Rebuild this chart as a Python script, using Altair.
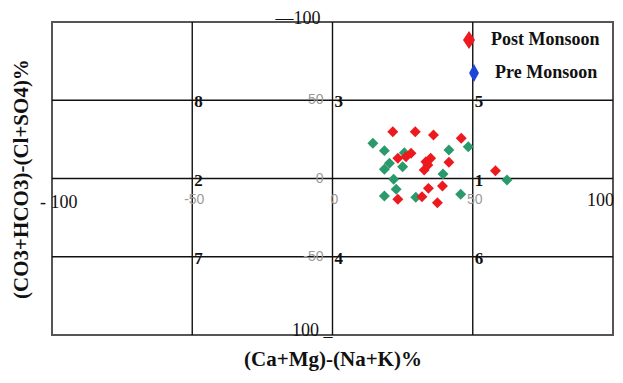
import altair as alt
import pandas as pd

# Post Monsoon (red) samples
post_x = [21.5, 29.5, 36.0, 45.9, 23.3, 26.2, 28.0, 33.3, 35.0, 32.7, 34.0, 41.5, 58.1, 34.2, 39.2, 23.3, 31.9, 37.4]
post_y = [29.9, 29.9, 27.8, 25.7, 12.9, 13.9, 16.1, 10.7, 12.9, 5.4, 8.6, 10.4, 5.0, -6.3, -4.8, -13.3, -11.6, -15.5]
# Pre Monsoon (green) samples
pre_x = [14.4, 18.5, 25.6, 20.3, 18.5, 25.0, 41.5, 48.4, 39.4, 21.8, 22.7, 18.5, 29.7, 45.7, 62.2]
pre_y = [22.5, 17.8, 16.5, 9.7, 5.9, 7.5, 18.2, 20.3, 2.9, -0.5, -6.9, -11.2, -12.0, -10.1, -1.0]

grid_vals = [-50, 0, 50]
region_x = [50, 0, -50, 0, 50, 50, -50, -50]
region_y = [0, -50, 0, 50, 50, -50, -50, 50]
region_lab = ["1", "4", "2", "3", "5", "6", "7", "8"]

xgrey_vals = [-50, 0, 50]
xgrey_labs = ["-50", "0", "50"]
ygrey_vals = [50, 0, -50]
ygrey_labs = ["50", "0", "-50"]

legend_labels = ["Post Monsoon", "Pre Monsoon"]

RED = "#ec1a1f"
GREEN = "#2a9a6c"
BLUE = "#1f45d6"
SERIF = "Liberation Serif"

xs = alt.Scale(domain=[-100, 100], nice=False, zero=False)
ys = alt.Scale(domain=[-100, 100], nice=False, zero=False)

XAX = alt.Axis(title="(Ca+Mg)-(Na+K)%", labels=False, ticks=False, domain=False, grid=False,
               titleFont=SERIF, titleFontSize=21, titleFontWeight="bold", titleColor="#111",
               titlePadding=13)
YAX = alt.Axis(title="(CO3+HCO3)-(Cl+SO4)%", labels=False, ticks=False, domain=False, grid=False,
               titleFont=SERIF, titleFontSize=21, titleFontWeight="bold", titleColor="#111",
               titlePadding=21)


def X(f):
    return alt.X(f, scale=xs, axis=XAX)


def Y(f):
    return alt.Y(f, scale=ys, axis=YAX)


pts = pd.concat([
    pd.DataFrame({"x": pre_x, "y": pre_y, "season": "Pre Monsoon"}),
    pd.DataFrame({"x": post_x, "y": post_y, "season": "Post Monsoon"}),
])

gdf = pd.DataFrame({"v": grid_vals, "lo": -100, "hi": 100})

vlines = alt.Chart(gdf).mark_rule(color="#111", strokeWidth=1.4).encode(
    x=X("v:Q"), y=Y("lo:Q"), y2="hi:Q",
)
hlines = alt.Chart(gdf).mark_rule(color="#111", strokeWidth=1.4).encode(
    y=Y("v:Q"), x=X("lo:Q"), x2="hi:Q",
)
border = alt.Chart(pd.DataFrame({"a": [-100], "b": [100]})).mark_rect(
    fill=None, stroke="#555", strokeWidth=2
).encode(x=X("a:Q"), x2="b:Q", y=Y("a:Q"), y2="b:Q")

points = alt.Chart(pts).mark_point(shape="diamond", filled=True, size=120, opacity=1).encode(
    x=X("x:Q"),
    y=Y("y:Q"),
    color=alt.Color("season:N", scale=alt.Scale(domain=["Post Monsoon", "Pre Monsoon"], range=[RED, GREEN]), legend=None),
    order=alt.Order("season:N", sort="descending"),
)

regions = alt.Chart(pd.DataFrame({"x": region_x, "y": region_y, "t": region_lab})).mark_text(
    font=SERIF, fontSize=17, fontWeight="bold", color="#111", align="left", baseline="middle", dx=2, dy=2
).encode(x=X("x:Q"), y=Y("y:Q"), text="t:N")

xgrey = alt.Chart(pd.DataFrame({"x": xgrey_vals, "y": [0] * 3, "t": xgrey_labs})).mark_text(
    font="Liberation Sans", fontSize=14, color="#9a9a9a", align="center", baseline="middle", dx=2, dy=21
).encode(x=X("x:Q"), y=Y("y:Q"), text="t:N")

ygrey = alt.Chart(pd.DataFrame({"x": [0] * 3, "y": ygrey_vals, "t": ygrey_labs})).mark_text(
    font="Liberation Sans", fontSize=14, color="#9a9a9a", align="right", baseline="middle", dx=-9, dy=0
).encode(x=X("x:Q"), y=Y("y:Q"), text="t:N")

# black end labels
xl = alt.Chart(pd.DataFrame({"x": [-100], "y": [0], "t": ["- 100"]})).mark_text(
    font=SERIF, fontSize=18, color="#111", align="left", baseline="middle", dx=-12, dy=24
).encode(x=X("x:Q"), y=Y("y:Q"), text="t:N")
xr = alt.Chart(pd.DataFrame({"x": [100], "y": [0], "t": ["100"]})).mark_text(
    font=SERIF, fontSize=18, color="#111", align="right", baseline="middle", dx=1, dy=22
).encode(x=X("x:Q"), y=Y("y:Q"), text="t:N")
yt = alt.Chart(pd.DataFrame({"x": [0], "y": [100], "t": ["—100"]})).mark_text(
    font=SERIF, fontSize=18, color="#111", align="right", baseline="middle", dx=-12, dy=-3
).encode(x=X("x:Q"), y=Y("y:Q"), text="t:N")
yb = alt.Chart(pd.DataFrame({"x": [0], "y": [-100], "t": ["100 _"]})).mark_text(
    font=SERIF, fontSize=18, color="#111", align="right", baseline="alphabetic", dx=0, dy=1
).encode(x=X("x:Q"), y=Y("y:Q"), text="t:N")

# manual legend
leg_red = alt.Chart(pd.DataFrame({"t": [legend_labels[0]]})).mark_point(
    shape="M0,-1L0.67,0L0,1L-0.67,0Z", filled=True, size=324, color=RED, opacity=1
).encode(x=alt.value(417), y=alt.value(18))
leg_blue = alt.Chart(pd.DataFrame({"t": [legend_labels[1]]})).mark_point(
    shape="M0,-1L0.55,0L0,1L-0.55,0Z", filled=True, size=324, color=BLUE, opacity=1
).encode(x=alt.value(422), y=alt.value(51))
leg_t1 = alt.Chart(pd.DataFrame({"t": [legend_labels[0]]})).mark_text(
    font=SERIF, fontSize=18, fontWeight="bold", color="#111", align="left", baseline="middle"
).encode(x=alt.value(439), y=alt.value(18), text="t:N")
leg_t2 = alt.Chart(pd.DataFrame({"t": [legend_labels[1]]})).mark_text(
    font=SERIF, fontSize=18, fontWeight="bold", color="#111", align="left", baseline="middle"
).encode(x=alt.value(443), y=alt.value(51), text="t:N")

chart = alt.layer(
    border, vlines, hlines, points, regions, xgrey, ygrey, xl, xr, yt, yb,
    leg_red, leg_blue, leg_t1, leg_t2
).properties(
    width=561, height=313,
    autosize=alt.AutoSizeParams(type="none"),
    padding={"left": 44, "top": 14, "right": 2, "bottom": 37},
    background="white",
).configure_view(stroke=None)

chart.save("out.html", embed_options={"renderer": "svg", "actions": False})
